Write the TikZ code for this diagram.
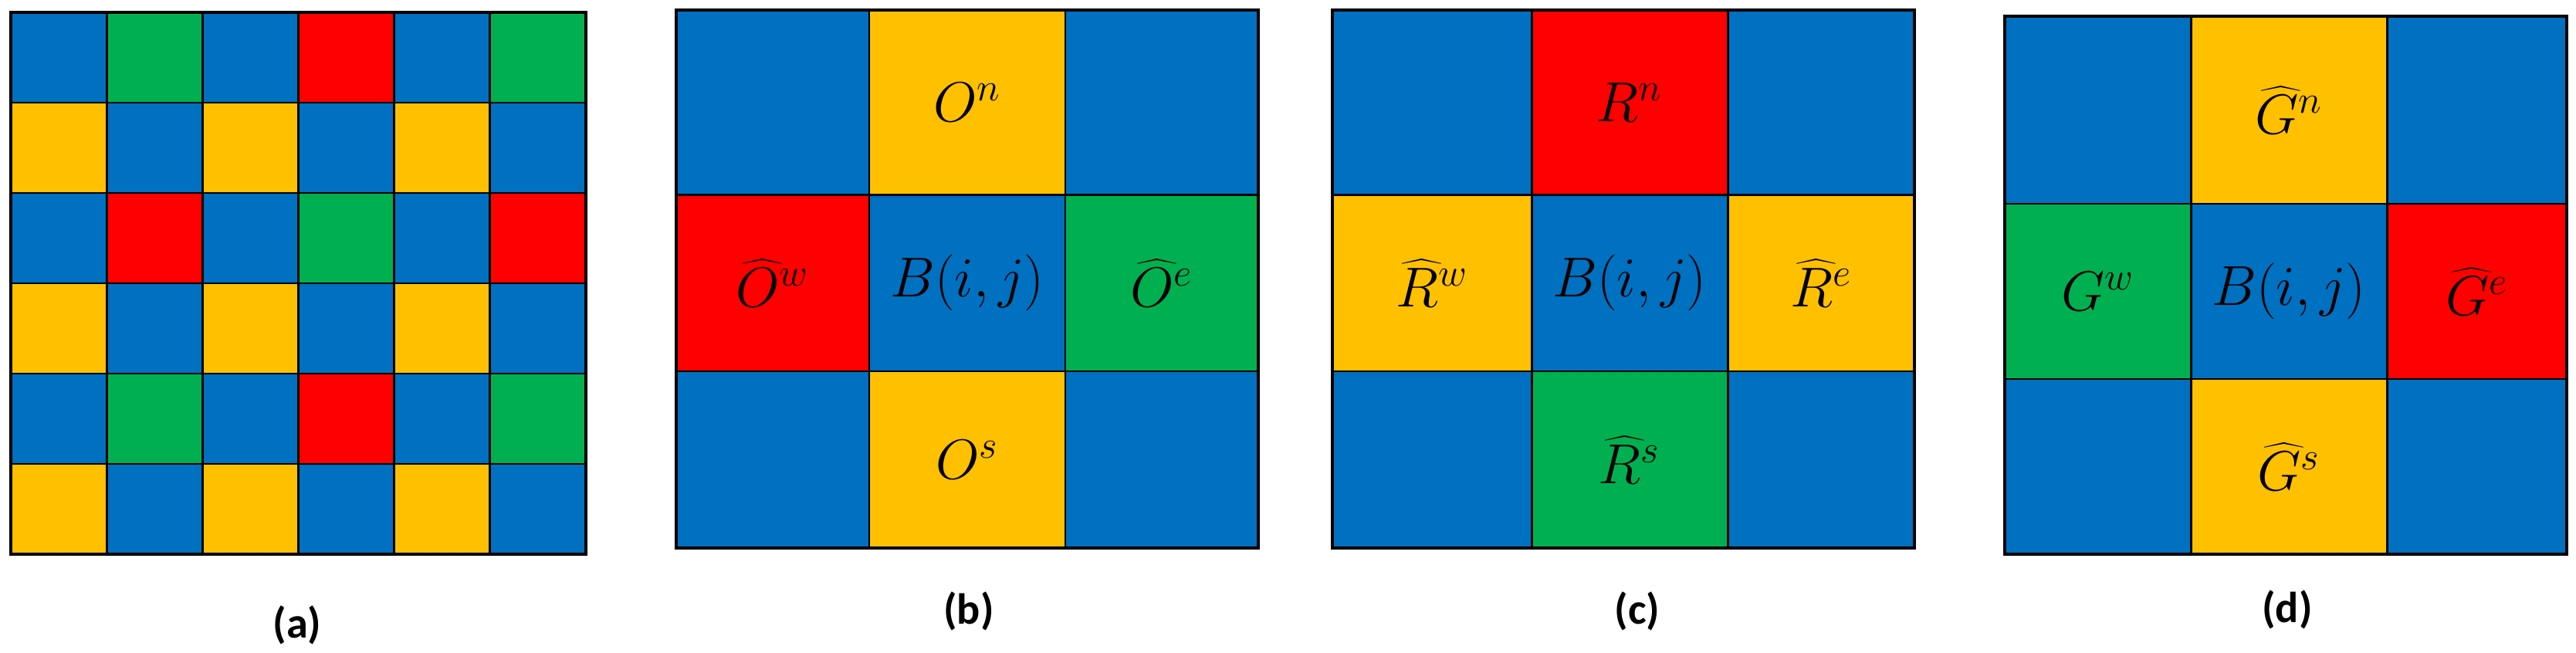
\documentclass[tikz,border=0pt]{standalone}
\usepackage{fontspec}
\newfontfamily\capfont{Carlito}
\usetikzlibrary{matrix, positioning}
\definecolor{cb}{HTML}{0070C0}
\definecolor{cg}{HTML}{00B050}
\definecolor{cr}{HTML}{FF0000}
\definecolor{cy}{HTML}{FFC000}
\tikzset{
  cell/.style={draw, fill=cb, outer sep=0pt, inner sep=0pt, anchor=center},
  frame/.style={draw, line width=1.2pt},
  subcap/.style={font=\capfont\bfseries\fontsize{16}{19}\selectfont}
}

\begin{document}
\begin{tikzpicture}[line width=0.85pt]
    \useasboundingbox (0,0) rectangle (33.37,-8.45);
    % (a) full mosaic
    \matrix (pa) [matrix of nodes, nodes in empty cells, anchor=north west, inner sep=0pt,
      nodes={cell, minimum width=1.242cm, minimum height=1.17cm},
      row sep=-\pgflinewidth,
      column sep=-\pgflinewidth,
      ampersand replacement=\&
      ] at (0.11,-0.13) {
      \& |[fill=cg]| \& \& |[fill=cr]| \& \& |[fill=cg]| \\
      |[fill=cy]| \& \& |[fill=cy]| \& \& |[fill=cy]| \& \\
      \& |[fill=cr]| \& \& |[fill=cg]| \& \& |[fill=cr]| \\
      |[fill=cy]| \& \& |[fill=cy]| \& \& |[fill=cy]| \& \\
      \& |[fill=cg]| \& \& |[fill=cr]| \& \& |[fill=cg]| \\
      |[fill=cy]| \& \& |[fill=cy]| \& \& |[fill=cy]| \& \\
    };
    % (b) orange neighbours
    \matrix (pb) [matrix of nodes, nodes in empty cells, anchor=north west, inner sep=0pt,
      nodes={cell, font=\huge},
      row sep=-\pgflinewidth,
      column sep=-\pgflinewidth,
      column 1/.style={nodes={minimum width=2.50cm}},
      column 2/.style={nodes={minimum width=2.54cm}},
      column 3/.style={nodes={minimum width=2.50cm}},
      row 1/.style={nodes={minimum height=2.39cm}},
      row 2/.style={nodes={minimum height=2.29cm}},
      row 3/.style={nodes={minimum height=2.29cm}},
      ampersand replacement=\&
      ] at (8.73,-0.10) {
      \& |[fill=cy]| $O^{n}$ \& \\
      |[fill=cr]| $\widehat{O}^{w}$ \& $B(i,j)$ \& |[fill=cg]| $\widehat{O}^{e}$ \\
      \& |[fill=cy]| $O^{s}$ \& \\
    };
    % (c) red neighbours
    \matrix (pc) [matrix of nodes, nodes in empty cells, anchor=north west, inner sep=0pt,
      nodes={cell, font=\huge},
      row sep=-\pgflinewidth,
      column sep=-\pgflinewidth,
      column 1/.style={nodes={minimum width=2.58cm}},
      column 2/.style={nodes={minimum width=2.54cm}},
      column 3/.style={nodes={minimum width=2.42cm}},
      row 1/.style={nodes={minimum height=2.39cm}},
      row 2/.style={nodes={minimum height=2.29cm}},
      row 3/.style={nodes={minimum height=2.29cm}},
      ampersand replacement=\&
      ] at (17.23,-0.10) {
      \& |[fill=cr]| $R^{n}$ \& \\
      |[fill=cy]| $\widehat{R}^{w}$ \& $B(i,j)$ \& |[fill=cy]| $\widehat{R}^{e}$ \\
      \& |[fill=cg]| $\widehat{R}^{s}$ \& \\
    };
    % (d) green neighbours
    \matrix (pd) [matrix of nodes, nodes in empty cells, anchor=north west, inner sep=0pt,
      nodes={cell, font=\huge},
      row sep=-\pgflinewidth,
      column sep=-\pgflinewidth,
      column 1/.style={nodes={minimum width=2.41cm}},
      column 2/.style={nodes={minimum width=2.54cm}},
      column 3/.style={nodes={minimum width=2.33cm}},
      row 1/.style={nodes={minimum height=2.43cm}},
      row 2/.style={nodes={minimum height=2.27cm}},
      row 3/.style={nodes={minimum height=2.27cm}},
      ampersand replacement=\&
      ] at (25.94,-0.18) {
      \& |[fill=cy]| $\widehat{G}^{n}$ \& \\
      |[fill=cg]| $G^{w}$ \& $B(i,j)$ \& |[fill=cr]| $\widehat{G}^{e}$ \\
      \& |[fill=cy]| $\widehat{G}^{s}$ \& \\
    };
    \foreach \m/\n in {pa/6, pb/3, pc/3, pd/3}
      \draw[frame] (\m-1-1.north west) rectangle (\m-\n-\n.south east);
    % captions
    \node[subcap] (la) at (3.85,-8.10) {(a)};
    \node[subcap] (lb) at (12.55,-7.92) {(b)};
    \node[subcap] (lc) at (21.21,-7.92) {(c)};
    \node[subcap] (ld) at (29.63,-7.90) {(d)};
\end{tikzpicture}
\end{document}
